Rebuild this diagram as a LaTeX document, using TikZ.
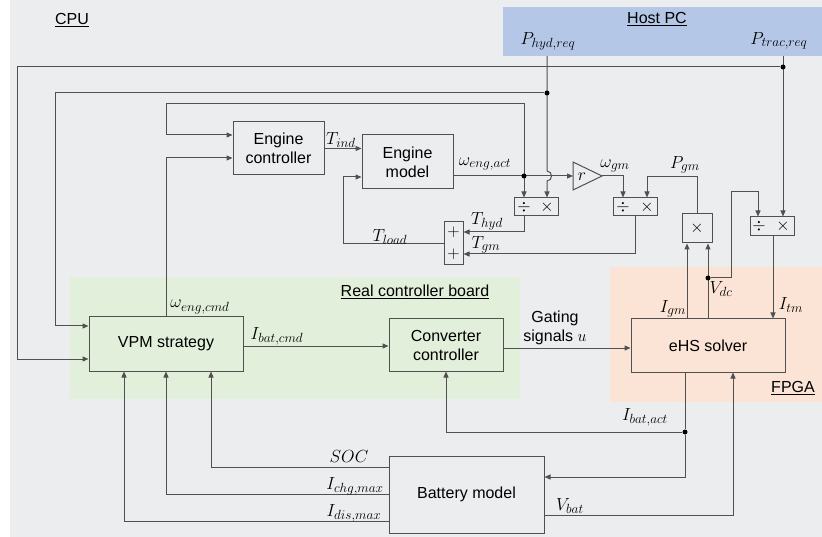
\RequirePackage{fix-cm}
\documentclass[tikz,border=0pt]{standalone}
\usepackage{fontspec}
\setmainfont{Liberation Sans}
\usetikzlibrary{arrows.meta}
% slightly larger subscripts for the signal labels
\renewcommand{\defaultscriptratio}{.76}
\definecolor{bggray}{HTML}{ECEDEF}
\definecolor{hostblue}{HTML}{B4C7E7}
\definecolor{boardgreen}{HTML}{E2EFDA}
\definecolor{fpgaorange}{HTML}{FBE3D5}
\definecolor{wirecol}{HTML}{505050}

\begin{document}
\begin{tikzpicture}[x=1pt,y=-1pt,
  every node/.style={font=\fontsize{16}{19}\selectfont},
  blk/.style={draw=wirecol, line width=1pt, rectangle, inner sep=0pt, align=center},
  wire/.style={draw=wirecol, line width=1pt},
  arr/.style={wire, -{Triangle[length=6pt,width=5pt]}},
  lab/.style={font=\fontsize{17.5}{21}\selectfont, inner sep=0pt},
  sym/.style={font=\fontsize{17}{20}\selectfont, inner sep=0pt},
  dot/.style={circle, fill=black, inner sep=0pt, minimum size=5pt},
]
% canvas and hardware regions
\useasboundingbox (0,0) rectangle (822,537);
\fill[bggray] (10,0) rectangle (822,537);
\fill[hostblue] (503,7) rectangle (822,56);
\fill[boardgreen] (70,277) rectangle (520,399);
\fill[fpgaorange] (610,267) rectangle (822,402);

\node (cpu) at (72,20) {\underline{CPU}};
\node (host) at (657,19) {\underline{Host PC}};
\node (board) at (415,292) {\underline{Real controller board}};
\node (fpga) at (793,388) {\underline{FPGA}};

% blocks
\node[blk, minimum width=91pt, minimum height=53pt] (ec) at (278.5,148.5) {Engine\\controller};
\node[blk, minimum width=91pt, minimum height=54pt] (em) at (407.5,162) {Engine\\model};
\node[blk, minimum width=19pt, minimum height=43pt] (sum) at (453.5,243.5) {};
\node[sym] (sump1) at (453.5,232) {$+$};
\node[sym] (sump2) at (453.5,254) {$+$};

\node[blk, minimum width=44pt, minimum height=18pt] (d1) at (536,207) {};
\node[sym] (d1div) at (524,207) {$\div$};
\node[sym] (d1mul) at (547,207) {$\times$};

\node[blk, minimum width=44pt, minimum height=18pt] (d2) at (635,207) {};
\node[sym] (d2div) at (623,207) {$\div$};
\node[sym] (d2mul) at (647,207) {$\times$};

\node[blk, minimum width=44pt, minimum height=19pt] (d3) at (772,226.5) {};
\node[sym] (d3div) at (759,226.5) {$\div$};
\node[sym] (d3mul) at (783,226.5) {$\times$};

\node[blk, minimum width=30pt, minimum height=29pt] (mul) at (697,228.5) {\fontsize{17}{20}\selectfont$\times$};

% gain r
\coordinate (gin) at (573,176);
\coordinate (gout) at (602,176);
\draw[wire] (573,162) -- (gout) -- (573,190) -- cycle;
\node[lab] (gainr) at (582,177) {$r$};

\node[blk, minimum width=154pt, minimum height=54pt] (vpm) at (166,344) {VPM strategy};
\node[blk, minimum width=114pt, minimum height=52pt] (cc) at (446,345) {Converter\\controller};
\node[blk, minimum width=154pt, minimum height=53pt] (ehs) at (708,345.5) {eHS solver};
\node[blk, minimum width=155pt, minimum height=77pt] (bat) at (466.5,494.5) {Battery model};

% engine loop
\draw[arr] (ec.east) -- (ec.east -| em.west);
\node[lab] (tind) at (341,140) {$T_{ind}$};

\coordinate (j1) at (524,176);
\draw[arr] (em.east |- j1) -- (gin);
\node[lab] (weng) at (485,164) {$\omega_{eng,act}$};
\draw[arr] (j1) -- (524,104) -| (166,135) -- (ec.west |- 0,135);
\draw[arr] (j1) -- (d1.north -| j1);
\node[dot] (dj1) at (j1) {};

\draw[arr] (vpm.north) |- (ec.west |- 0,158);
\node[lab] (wcmd) at (200,307) {$\omega_{eng,cmd}$};

% host PC requests
\node[lab] (phyd) at (548,41) {$P_{hyd,req}$};
\coordinate (h0) at (547,56);
\draw[arr] (h0) -- (547,171) .. controls (553,171) and (553,181) .. (547,181) -- (d1.north -| h0);
\node[dot] (dh) at (547,93) {};
\draw[arr] (dh) -| (55,326) -- (vpm.west |- 0,326);

\node[lab] (ptrac) at (779,41) {$P_{trac,req}$};
\coordinate (t0) at (783,56);
\draw[arr] (t0) -- (d3.north -| t0);
\node[dot] (dt) at (783,67) {};
\draw[arr] (dt) -| (17,359) -- (vpm.west |- 0,359);

% load torque path
\draw[arr] (d1.south -| j1) |- (sum.east |- 0,232);
\node[lab] (thyd) at (487,221) {$T_{hyd}$};
\draw[arr] (gout) -| (d2.north -| 623,0);
\node[lab] (wgm) at (615,166) {$\omega_{gm}$};
\draw[arr] (mul.north) |- (647,177) -- (d2.north -| 647,0);
\node[lab] (pgm) at (685,165) {$P_{gm}$};
\draw[arr] (d2.south -| 635,0) |- (sum.east |- 0,254);
\node[lab] (tgm) at (486,245) {$T_{gm}$};
\draw[arr] (sum.west) -| (343,177) -- (em.west |- 0,177);
\node[lab] (tload) at (390,237) {$T_{load}$};

% electrical side
\draw[arr] (ehs.north -| 687,0) -- (mul.south -| 687,0);
\draw[arr] (ehs.north -| 708,0) -- (mul.south -| 708,0);
\node[dot] (dv) at (708,278) {};
\draw[arr] (dv) -| (731,192) -| (d3.north -| 758,0);
\draw[arr] (d3.south -| 773,0) -- (ehs.north -| 773,0);
\node[lab] (igm) at (673,309) {$I_{gm}$};
\node[lab] (vdc) at (721,289) {$V_{dc}$};
\node[lab] (itm) at (791,305) {$I_{tm}$};

\draw[arr] (vpm.east |- 0,346) -- (cc.west |- 0,346);
\node[lab] (ibcmd) at (277,336) {$I_{bat,cmd}$};
\draw[arr] (cc.east |- 0,348) -- (ehs.west |- 0,348);
\node[align=center] (gate) at (555,327.5) {Gating\\signals $u$};

\node[dot] (di) at (685,432) {};
\draw[wire] (ehs.south -| di) -- (di);
\draw[arr] (di) -| (cc.south);
\draw[arr] (di) |- (bat.east |- 0,477);
\node[lab] (ibact) at (645,417) {$I_{bat,act}$};

\draw[arr] (bat.east |- 0,515) -| (ehs.south -| 733,0);
\node[lab] (vbat) at (570,506) {$V_{bat}$};

% battery limits back to the strategy
\draw[arr] (bat.west |- 0,467) -| (vpm.south -| 211,0);
\draw[arr] (bat.west |- 0,494) -| (vpm.south -| 166,0);
\draw[arr] (bat.west |- 0,521) -| (vpm.south -| 124,0);
\node[lab] (soc) at (349,457) {$SOC$};
\node[lab] (ichg) at (355,486) {$I_{chg,max}$};
\node[lab] (idis) at (354,513) {$I_{dis,max}$};
\end{tikzpicture}
\end{document}
